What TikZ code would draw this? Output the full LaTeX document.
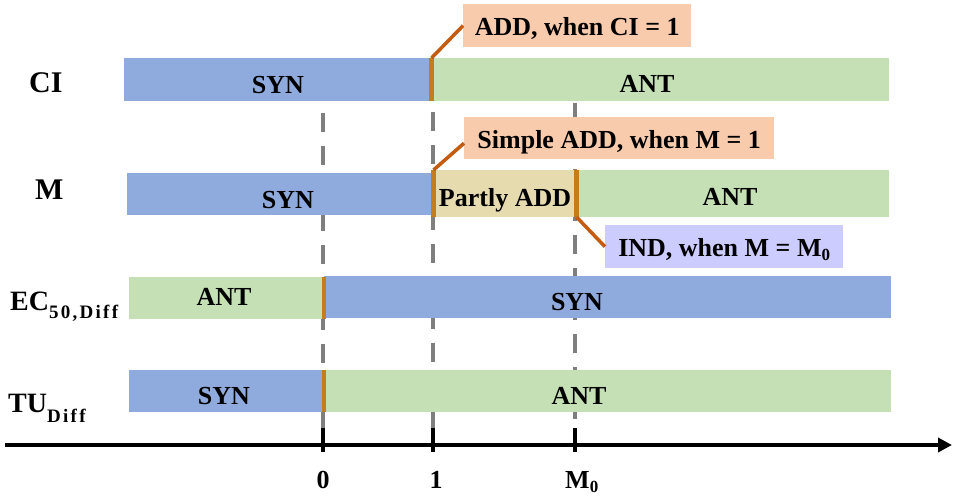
\documentclass[tikz,border=0pt]{standalone}
\usepackage{fontspec}
\setmainfont{Liberation Serif}
\newfontfamily\subfont[LetterSpace=12]{Liberation Serif}
\usetikzlibrary{arrows.meta}
\definecolor{synblue}{HTML}{8FAADC}
\definecolor{antgreen}{HTML}{C5E0B4}
\definecolor{addorange}{HTML}{F8CBAD}
\definecolor{partlytan}{HTML}{E5DBAE}
\definecolor{indlav}{HTML}{CCCCFF}
\definecolor{leadercol}{HTML}{C55A11}
\definecolor{dividercol}{HTML}{C47C1C}
\definecolor{dashgray}{HTML}{7F7F7F}
\begin{document}
\begin{tikzpicture}[x=1pt,y=-1pt,
  txt/.style={font=\bfseries\fontsize{26}{30}\selectfont, inner sep=0pt, anchor=base},
  rowlbl/.style={font=\bfseries\fontsize{30}{34}\selectfont, inner sep=0pt, anchor=base west},
  callout/.style={draw=none, inner sep=0pt, font=\bfseries\fontsize{26}{30}\selectfont, text height=20pt, text depth=0pt, anchor=north west},
  guide/.style={dashgray, line width=4pt, dash pattern=on 19pt off 14pt},
  divider/.style={dividercol, line width=4.5pt},
  leader/.style={leadercol, line width=3.5pt},
  tick/.style={black, line width=4pt},
]
\useasboundingbox (0,0) rectangle (957,496);

% guide lines (behind bars)
\coordinate (g0t) at (323,113); \coordinate (g0b) at (323,428);
\coordinate (g1t) at (432.5,112); \coordinate (g1b) at (432.5,428);
\coordinate (gmt) at (575,103); \coordinate (gmb) at (575,428);
\draw[guide] (g0t) -- (g0b);
\draw[guide] (g1t) -- (g1b);
\draw[guide] (gmt) -- (gmb);

% CI row
\fill[synblue] (124,58) rectangle (431,101);
\fill[antgreen] (431,58) rectangle (889,101);
% M row
\fill[synblue] (127,173) rectangle (432,215);
\fill[partlytan] (432,170) rectangle (576,217);
\fill[antgreen] (576,170) rectangle (889,217);
% EC row
\fill[antgreen] (129,277) rectangle (324,319);
\fill[synblue] (324,276) rectangle (891,318);
% TU row
\fill[synblue] (129,370) rectangle (324,412);
\fill[antgreen] (324,370) rectangle (891,412);

% dividers
\coordinate (dciT) at (431.5,58); \coordinate (dciB) at (431.5,101);
\coordinate (dm1T) at (433.5,170); \coordinate (dm1B) at (433.5,217);
\coordinate (dm2T) at (576.5,170); \coordinate (dm2B) at (576.5,217);
\coordinate (decT) at (324,277); \coordinate (decB) at (324,319);
\coordinate (dtuT) at (324,370); \coordinate (dtuB) at (324,412);
\draw[divider] (dciT) -- (dciB);
\draw[divider] (dm1T) -- (dm1B);
\draw[divider] (dm2T) -- (dm2B);
\draw[divider] (decT) -- (decB);
\draw[divider] (dtuT) -- (dtuB);

% row labels
\node[rowlbl] (lci) at (29,92) {CI};
\node[rowlbl] (lm) at (35,199) {M};
\node[rowlbl, font=\bfseries\fontsize{28}{32}\selectfont] (lec) at (10,310) {EC\raisebox{-8pt}{\subfont\bfseries\fontsize{19}{19}\selectfont 50,Diff}};
\node[rowlbl, font=\bfseries\fontsize{28}{32}\selectfont] (ltu) at (8,412) {TU\raisebox{-10pt}{\subfont\bfseries\fontsize{19}{19}\selectfont Diff}};

% bar texts
\node[txt] (cisyn) at (278,93) {SYN};
\node[txt] (ciant) at (647,92) {ANT};
\node[txt] (msyn) at (288,208) {SYN};
\node[txt] (mpart) at (505,206) {Partly ADD};
\node[txt] (mant) at (730,205) {ANT};
\node[txt] (ecant) at (224,305) {ANT};
\node[txt] (ecsyn) at (577,310) {SYN};
\node[txt] (tusyn) at (224,404) {SYN};
\node[txt] (tuant) at (579,404) {ANT};

% callouts
\node[callout, fill=addorange, minimum width=228pt, minimum height=43pt] (addbox) at (463,4) {ADD, when CI = 1};
\node[callout, fill=addorange, minimum width=310pt, minimum height=42pt] (sbox) at (464,117) {Simple ADD, when M = 1};
\node[callout, fill=indlav, minimum width=238pt, minimum height=43pt] (indbox) at (605,225) {IND, when M = M\raisebox{-4pt}{\fontsize{17}{17}\selectfont 0}};

\draw[leader] (dciT) -- (addbox.west);
\draw[leader] (dm1T) -- ([yshift=-5pt]sbox.west);
\draw[leader] (dm2B) -- (indbox.west);

% axis
\coordinate (axL) at (5,445); \coordinate (axR) at (952,445);
\draw[black, line width=3.5pt, -{Triangle[length=14pt,width=14pt]}] (axL) -- (axR);
\coordinate (t0a) at (323,428); \coordinate (t0b) at (323,452);
\coordinate (t1a) at (433,428); \coordinate (t1b) at (433,452);
\coordinate (tma) at (575,428); \coordinate (tmb) at (575,452);
\draw[tick] (t0a) -- (t0b);
\draw[tick] (t1a) -- (t1b);
\draw[tick] (tma) -- (tmb);
\node[txt] (x0) at (323,488) {0};
\node[txt] (x1) at (436,488) {1};
\node[txt, anchor=base west] (xm) at (565,488) {M\raisebox{-4pt}{\fontsize{17}{17}\selectfont 0}};
\end{tikzpicture}
\end{document}
